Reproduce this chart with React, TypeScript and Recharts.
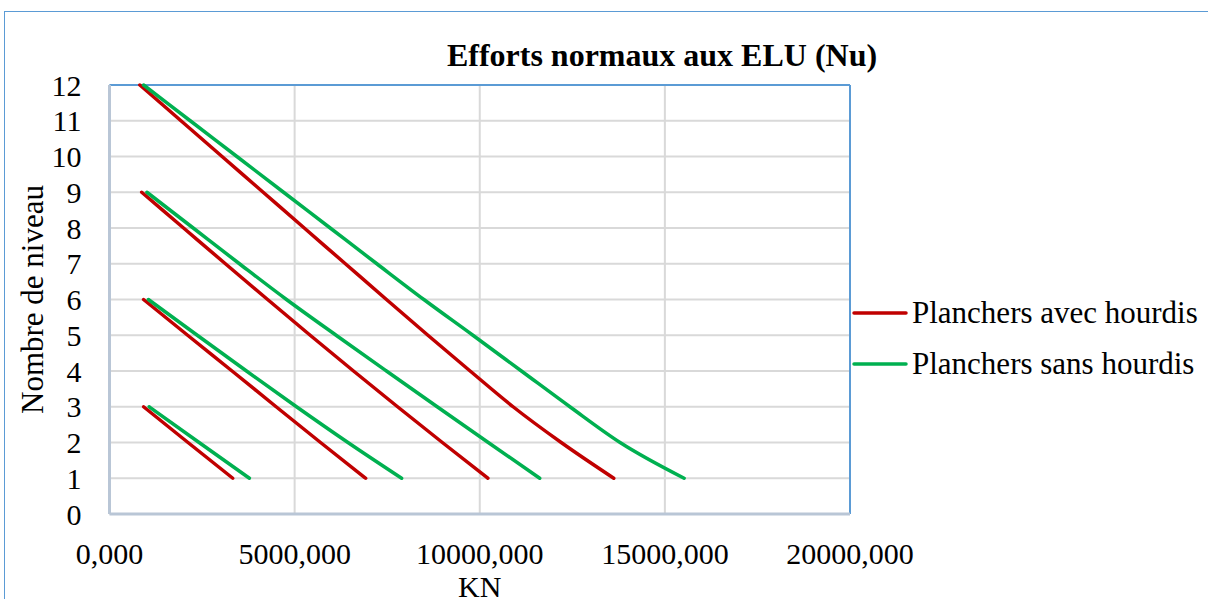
import React from 'react';
import {
  LineChart,
  Line,
  XAxis,
  YAxis,
  CartesianGrid,
  ReferenceLine,
  Legend,
  Label,
} from 'recharts';

// Niveaux (axe Y)
const levels12 = [12, 11, 10, 9, 8, 7, 6, 5, 4, 3, 2, 1];
const levels9 = [9, 8, 7, 6, 5, 4, 3, 2, 1];
const levels6 = [6, 5, 4, 3, 2, 1];
const levels3 = [3, 2, 1];

// Efforts Nu (KN) - planchers avec hourdis
const avec12 = [820, 1930, 3040, 4150, 5260, 6370, 7480, 8600, 9740, 10900, 12200, 13620];
const avec9 = [870, 2000, 3130, 4270, 5420, 6590, 7780, 8990, 10220];
const avec6 = [920, 2110, 3310, 4500, 5700, 6920];
const avec3 = [920, 2120, 3330];

// Efforts Nu (KN) - planchers sans hourdis
const sans12 = [920, 2180, 3440, 4700, 5960, 7220, 8490, 9815, 11125, 12434, 13790, 15520];
const sans9 = [1010, 2260, 3510, 4780, 6120, 7480, 8850, 10230, 11620];
const sans6 = [1050, 2370, 3700, 5050, 6440, 7890];
const sans3 = [1070, 2420, 3780];

const xTicks = [0, 5000, 10000, 15000, 20000];
const yTicks = [0, 1, 2, 3, 4, 5, 6, 7, 8, 9, 10, 11, 12];

const RED = '#c00000';
const GREEN = '#00b050';
const FONT = '"Liberation Serif", "Times New Roman", Times, "DejaVu Serif", serif';

const toPoints = (xs: number[], ys: number[]) => xs.map((x, i) => ({ x, y: ys[i] }));

const seriesList = [
  { key: 'a12', name: 'Planchers avec hourdis', color: RED, data: toPoints(avec12, levels12), legend: true },
  { key: 'a9', name: 'Planchers avec hourdis', color: RED, data: toPoints(avec9, levels9), legend: false },
  { key: 'a6', name: 'Planchers avec hourdis', color: RED, data: toPoints(avec6, levels6), legend: false },
  { key: 'a3', name: 'Planchers avec hourdis', color: RED, data: toPoints(avec3, levels3), legend: false },
  { key: 's12', name: 'Planchers sans hourdis', color: GREEN, data: toPoints(sans12, levels12), legend: true },
  { key: 's9', name: 'Planchers sans hourdis', color: GREEN, data: toPoints(sans9, levels9), legend: false },
  { key: 's6', name: 'Planchers sans hourdis', color: GREEN, data: toPoints(sans6, levels6), legend: false },
  { key: 's3', name: 'Planchers sans hourdis', color: GREEN, data: toPoints(sans3, levels3), legend: false },
];

const formatKN = (v: number) => v.toFixed(3).replace('.', ',');

const XTick = (props: any) => {
  const { x, y, payload } = props;
  return (
    <text x={x} y={y + 48} textAnchor="middle" fontSize={30} style={{ fontFamily: FONT }} fill="#000">
      {formatKN(payload.value)}
    </text>
  );
};

const YTick = (props: any) => {
  const { x, y, payload } = props;
  return (
    <text x={x - 26} y={y} dy="0.35em" textAnchor="end" fontSize={30} style={{ fontFamily: FONT }} fill="#000">
      {payload.value}
    </text>
  );
};

const LegendBox = (props: any) => {
  const items = (props.payload || []).filter((p: any) => p.type !== 'none');
  return (
    <div style={{ fontFamily: FONT, fontSize: 31, color: '#000' }}>
      {items.map((item: any) => (
        <div key={item.value} style={{ display: 'flex', alignItems: 'center', height: 51 }}>
          <svg width={58} height={6} style={{ marginRight: 2 }}>
            <line x1={2} y1={3} x2={54} y2={3} stroke={item.color} strokeWidth={3.5} strokeLinecap="round" />
          </svg>
          <span style={{ whiteSpace: 'nowrap' }}>{item.value}</span>
        </div>
      ))}
    </div>
  );
};

export default function App() {
  return (
    <div
      style={{
        position: 'fixed',
        left: 0,
        top: 0,
        width: 1208,
        height: 599,
        background: '#fff',
        overflow: 'hidden',
        fontFamily: FONT,
      }}
    >
      <div
        style={{
          position: 'absolute',
          left: 4,
          top: 11,
          width: 1230,
          height: 620,
          border: '1.5px solid #5b9bd5',
        }}
      />
      <div
        style={{
          position: 'absolute',
          left: 362,
          top: 36,
          width: 600,
          textAlign: 'center',
          fontFamily: FONT,
          fontWeight: 'bold',
          fontSize: 32,
          lineHeight: '38px',
          color: '#000',
        }}
      >
        Efforts normaux aux ELU (Nu)
      </div>
      <div style={{ position: 'absolute', left: 0, top: 0 }}>
        <LineChart width={1208} height={599} margin={{ top: 85, right: 358, bottom: 0, left: 0 }}>
          <CartesianGrid stroke="#d9d9d9" strokeWidth={2} />
          <XAxis
            type="number"
            dataKey="x"
            domain={[0, 20000]}
            ticks={xTicks}
            height={85}
            tickSize={0}
            tickLine={false}
            axisLine={{ stroke: '#b9c6d6', strokeWidth: 3 }}
            tick={<XTick />}
            interval={0}
          >
            <Label
              content={({ viewBox }: any) => (
                <text
                  x={viewBox.x + viewBox.width / 2}
                  y={viewBox.y + 83}
                  textAnchor="middle"
                  fontSize={30}
                  style={{ fontFamily: FONT }}
                  fill="#000"
                >
                  KN
                </text>
              )}
            />
          </XAxis>
          <YAxis
            type="number"
            dataKey="y"
            domain={[0, 12]}
            ticks={yTicks}
            width={109.5}
            tickSize={0}
            tickLine={false}
            axisLine={{ stroke: '#b9c6d6', strokeWidth: 3 }}
            tick={<YTick />}
            interval={0}
          >
            <Label
              content={({ viewBox }: any) => {
                const cx = 43;
                const cy = viewBox.y + viewBox.height / 2;
                return (
                  <text
                    x={cx}
                    y={cy}
                    transform={`rotate(-90 ${cx} ${cy})`}
                    textAnchor="middle"
                    fontSize={31}
                    style={{ fontFamily: FONT }}
                    fill="#000"
                  >
                    Nombre de niveau
                  </text>
                );
              }}
            />
          </YAxis>
          <ReferenceLine y={12} stroke="#5b9bd5" strokeWidth={2} />
          <ReferenceLine x={20000} stroke="#5b9bd5" strokeWidth={2} />
          {seriesList.map((s) => (
            <Line
              key={s.key}
              data={s.data}
              dataKey="y"
              name={s.name}
              type="monotone"
              stroke={s.color}
              strokeWidth={3.5}
              strokeLinecap="round"
              dot={false}
              activeDot={false}
              legendType={s.legend ? 'line' : 'none'}
              isAnimationActive={false}
            />
          ))}
          <Legend
            layout="vertical"
            align="center"
            verticalAlign="middle"
            content={<LegendBox />}
            wrapperStyle={{ left: 852, top: 287, width: 356 }}
          />
        </LineChart>
      </div>
    </div>
  );
}
